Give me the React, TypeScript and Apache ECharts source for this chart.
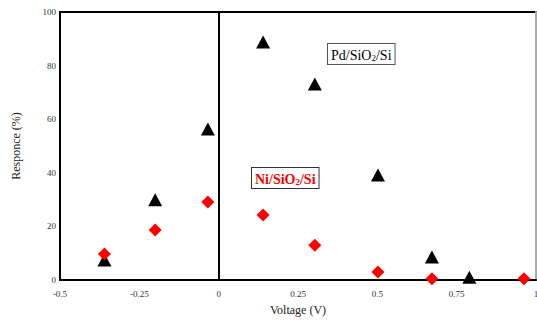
import React, { useEffect, useRef } from "react";
import * as echarts from "echarts";

const xTicks = [-0.5, 1];
const yRange = [0, 100];
const pdData: [number, number][] = [
  [-0.36, 7.5], [-0.2, 29.9], [-0.034, 56.3], [0.14, 88.8],
  [0.303, 73.1], [0.502, 39.2], [0.672, 8.6], [0.79, 1.0],
];
const niData: [number, number][] = [
  [-0.36, 9.7], [-0.2, 18.7], [-0.034, 29.1], [0.14, 24.3],
  [0.303, 13.0], [0.502, 3.0], [0.672, 0.5], [0.962, 0.5],
];
const pdLabel = ["Pd/SiO", "2", "/Si"];
const niLabel = ["Ni/SiO", "2", "/Si"];

const FONT = "Liberation Serif";

export default function App() {
  const ref = useRef<HTMLDivElement>(null);
  useEffect(() => {
    const chart = echarts.init(ref.current!, null, { renderer: "svg" });
    const hidden = { show: false };
    chart.setOption({
      animation: false,
      backgroundColor: "#fff",
      grid: {
        left: 60, right: 1, top: 12, bottom: 40, containLabel: false,
        outerBoundsMode: "none",
        show: true, borderColor: "#000", borderWidth: 2,
      },
      xAxis: [
        {
          type: "value",
          min: xTicks[0],
          max: xTicks[1],
          interval: 0.25,
          name: "Voltage (V)",
          nameLocation: "middle",
          nameGap: 24,
          nameTextStyle: { fontFamily: FONT, fontSize: 12, color: "#222" },
          axisLine: { onZero: true, lineStyle: { color: "#000", width: 2 } },
          axisTick: hidden,
          splitLine: hidden,
          axisLabel: {
            fontFamily: FONT, fontSize: 9, color: "#333", margin: 9,
            formatter: (v: number) => String(v),
          },
        },
      ],
      yAxis: [
        {
          type: "value",
          min: yRange[0],
          max: yRange[1],
          interval: 20,
          axisLine: { show: true, onZero: true, lineStyle: { color: "#000", width: 2 } },
          axisTick: hidden,
          splitLine: hidden,
          axisLabel: { fontFamily: FONT, fontSize: 9, color: "#333", margin: 4 },
        },
        {
          type: "value", position: "left", min: yRange[0], max: yRange[1],
          name: "Responce (%)",
          nameLocation: "middle",
          nameGap: 38,
          nameRotate: 90,
          nameTextStyle: { fontFamily: FONT, fontSize: 12, color: "#222" },
          axisLine: { show: false },
          axisTick: hidden, axisLabel: hidden, splitLine: hidden,
        },
        {
          type: "value", position: "right", min: yRange[0], max: yRange[1],
          axisLine: { show: true, onZero: false, lineStyle: { color: "#aaa", width: 2 } },
          axisTick: hidden, axisLabel: hidden, splitLine: hidden,
        },
      ],
      series: [
        {
          type: "scatter",
          name: "Pd/SiO2/Si",
          data: pdData,
          symbol: "triangle",
          symbolSize: [14, 13],
          itemStyle: { color: "#000", opacity: 1 },
        },
        {
          type: "scatter",
          name: "Ni/SiO2/Si",
          data: niData,
          symbol: "diamond",
          symbolSize: 13,
          itemStyle: { color: "#ff0000", opacity: 1 },
        },
      ],
      graphic: [
        {
          type: "text",
          left: 327,
          top: 43,
          style: {
            text: `{a|${pdLabel[0]}}{s|${pdLabel[1]}}{a|${pdLabel[2]}}`,
            rich: {
              a: { fontFamily: FONT, fontSize: 14, fill: "#000", lineHeight: 15, verticalAlign: "bottom" },
              s: { fontFamily: FONT, fontSize: 9, fill: "#000", lineHeight: 15, verticalAlign: "bottom" },
            },
            backgroundColor: "#fff",
            borderColor: "#555",
            borderWidth: 1,
            padding: [3, 3, 2, 3],
          },
        },
        {
          type: "text",
          left: 251,
          top: 167,
          style: {
            text: `{a|${niLabel[0]}}{s|${niLabel[1]}}{a|${niLabel[2]}}`,
            rich: {
              a: { fontFamily: FONT, fontSize: 14, fontWeight: "bold", fill: "#ff0000", lineHeight: 15, verticalAlign: "bottom" },
              s: { fontFamily: FONT, fontSize: 9, fontWeight: "bold", fill: "#ff0000", lineHeight: 15, verticalAlign: "bottom" },
            },
            backgroundColor: "#fff",
            borderColor: "#333",
            borderWidth: 1,
            padding: [3, 3, 2, 3],
          },
        },
      ],
    });
    return () => chart.dispose();
  }, []);
  return (
    <div
      ref={ref}
      style={{ position: "fixed", left: 0, top: 0, width: 537, height: 320 }}
    />
  );
}
